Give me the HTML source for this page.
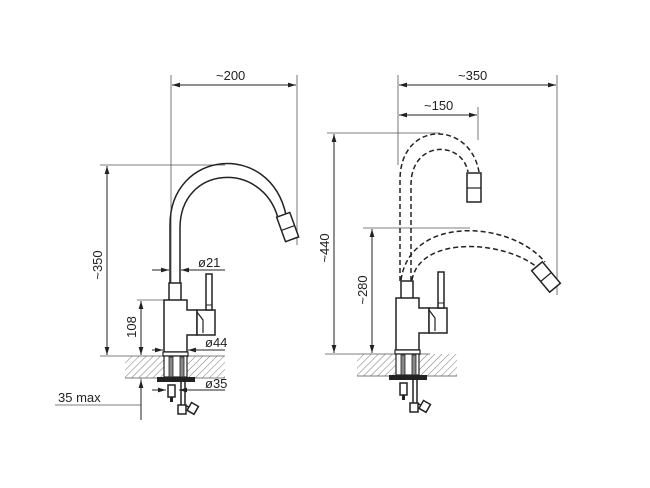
<!DOCTYPE html>
<html><head><style>html,body{margin:0;padding:0;background:#fff}svg{display:block}
text{font-family:"Liberation Sans Narrow","Liberation Sans",sans-serif;font-size:13px;fill:#222}</style></head>
<body>
<svg width="650" height="488" viewBox="0 0 650 488" xmlns="http://www.w3.org/2000/svg">
<defs>
<marker id="a" viewBox="0 0 10 10" refX="10" refY="5" markerWidth="8" markerHeight="8" orient="auto-start-reverse"><path d="M0,2 L10,5 L0,8z" fill="#222"/></marker>
<pattern id="h" width="5" height="5" patternUnits="userSpaceOnUse" patternTransform="rotate(45)"><line x1="0" y1="0" x2="0" y2="5" stroke="#555" stroke-width="0.8"/></pattern>
<g id="tap">
  <!-- counter -->
  <rect x="125" y="356" width="100" height="22" fill="url(#h)"/>
  <line x1="125" y1="378" x2="225" y2="378" stroke="#555" stroke-width="0.8"/>
  <!-- body -->
  <path d="M169,300 V283 H181 V300" fill="#fff" stroke="#222" stroke-width="1.5"/>
  <path d="M164,352 V300 H187 V310 H197 V335 H187 V352 Z" fill="#fff" stroke="#222" stroke-width="1.5"/>
  <rect x="197" y="310" width="18" height="25" fill="#fff" stroke="#222" stroke-width="1.5"/>
  <path d="M197,312 L203,320 V333" fill="none" stroke="#222" stroke-width="1.2"/>
  <rect x="206" y="274" width="6" height="36" fill="#fff" stroke="#222" stroke-width="1.5"/>
  <line x1="206" y1="305" x2="212" y2="305" stroke="#222"/>
  <!-- base -->
  <rect x="163" y="352" width="25" height="4" fill="#fff" stroke="#222" stroke-width="1.2"/>
  <rect x="164" y="356" width="23" height="21" fill="#fff" stroke="#222" stroke-width="1.2"/>
  <rect x="169" y="357" width="4" height="20" fill="#888" stroke="#222" stroke-width="0.8"/>
  <rect x="180" y="357" width="4" height="20" fill="#888" stroke="#222" stroke-width="0.8"/>
  <rect x="157" y="377" width="38" height="5" fill="#222"/>
  <rect x="168" y="385" width="7" height="12" fill="#fff" stroke="#222" stroke-width="1.5"/>
  <rect x="170" y="397" width="3" height="5" fill="#222"/>
  <path d="M181,382 V405 M185,382 V405 L194,410" fill="none" stroke="#222" stroke-width="1.5"/>
  <rect x="178" y="405" width="8" height="9" fill="#fff" stroke="#222" stroke-width="1.5"/>
  <rect x="189" y="404" width="8" height="9" transform="rotate(30 193 408)" fill="#fff" stroke="#222" stroke-width="1.5"/>
</g>
</defs>
<g stroke="#555" stroke-width="0.8" fill="none">
  <!-- left dims -->
  <line x1="171" y1="75" x2="171" y2="283"/><line x1="297" y1="75" x2="297" y2="245"/>
  <line x1="100" y1="165" x2="225" y2="165"/>
  <line x1="100" y1="356" x2="225" y2="356"/>
  <line x1="137" y1="300" x2="165" y2="300"/>
  <line x1="55" y1="405" x2="141" y2="405"/>
  <line x1="141" y1="378" x2="141" y2="405"/>
  <!-- right dims -->
  <line x1="398" y1="75" x2="398" y2="165"/><line x1="478" y1="107" x2="478" y2="140"/>
  <line x1="557" y1="75" x2="557" y2="295"/>
  <line x1="327" y1="133" x2="440" y2="133"/>
  <line x1="363" y1="228" x2="470" y2="228"/>
  <line x1="325" y1="354" x2="430" y2="354"/>
</g>
<g stroke="#222" stroke-width="1" fill="none" marker-start="url(#a)" marker-end="url(#a)">
  <line x1="172" y1="85" x2="296" y2="85"/>
  <line x1="107" y1="166" x2="107" y2="355"/>
  <line x1="141" y1="301" x2="141" y2="355"/>
  <line x1="334" y1="134" x2="334" y2="353"/>
  <line x1="372" y1="229" x2="372" y2="353"/>
  <line x1="399" y1="85" x2="556" y2="85"/>
  <line x1="399" y1="115" x2="477" y2="115"/>
</g>
<g stroke="#222" stroke-width="1" fill="none" marker-end="url(#a)">
  <line x1="152" y1="270" x2="169" y2="270"/><line x1="225" y1="270" x2="181" y2="270"/>
  <line x1="152" y1="350" x2="163" y2="350"/><line x1="225" y1="350" x2="188" y2="350"/>
  <line x1="152" y1="390" x2="166" y2="390"/><line x1="225" y1="390" x2="179" y2="390"/>
  <line x1="141" y1="410" x2="141" y2="380"/>
</g>
<line x1="141" y1="400" x2="141" y2="420" stroke="#222"/>
<use href="#tap"/>
<use href="#tap" transform="translate(232,-2)"/>
<!-- left spout -->
<path d="M170,283 V225 C170,150 270,140 286,215" fill="none" stroke="#222" stroke-width="1.5"/>
<path d="M180,283 V228 C180,165 262,160 278,218" fill="none" stroke="#222" stroke-width="1.5"/>
<g transform="rotate(-20 288 228)"><rect x="281" y="214" width="14" height="26" fill="#fff" stroke="#222" stroke-width="1.5"/><line x1="281" y1="228" x2="295" y2="228" stroke="#222" stroke-width="1.2"/></g>
<!-- right dashed spouts -->
<g fill="none" stroke="#222" stroke-width="1.5" stroke-dasharray="5,3">
  <path d="M400,281 V180 C400,120 470,120 479,172"/>
  <path d="M411,281 V185 C411,140 462,140 468,172"/>
  <path d="M401,280 C410,215 510,220 545,262"/>
  <path d="M412,280 C420,235 505,240 538,268"/>
</g>
<rect x="467" y="173" width="14" height="29" fill="#fff" stroke="#222" stroke-width="1.5"/>
<line x1="467" y1="188" x2="481" y2="188" stroke="#222" stroke-width="1.2"/>
<g transform="rotate(-40 546 277)"><rect x="539" y="263" width="14" height="28" fill="#fff" stroke="#222" stroke-width="1.5"/><line x1="539" y1="277" x2="553" y2="277" stroke="#222" stroke-width="1.2"/></g>
<!-- labels -->
<text x="216" y="80">~200</text>
<text x="458" y="80">~350</text>
<text x="424" y="110">~150</text>
<text x="198" y="267">ø21</text>
<text x="205" y="347">ø44</text>
<text x="205" y="388">ø35</text>
<text x="58" y="402">35 max</text>
<text transform="translate(102,265) rotate(-90)" text-anchor="middle">~350</text>
<text transform="translate(136,327) rotate(-90)" text-anchor="middle">108</text>
<text transform="translate(329,248) rotate(-90)" text-anchor="middle">~440</text>
<text transform="translate(367,290) rotate(-90)" text-anchor="middle">~280</text>
</svg>
</body></html>
